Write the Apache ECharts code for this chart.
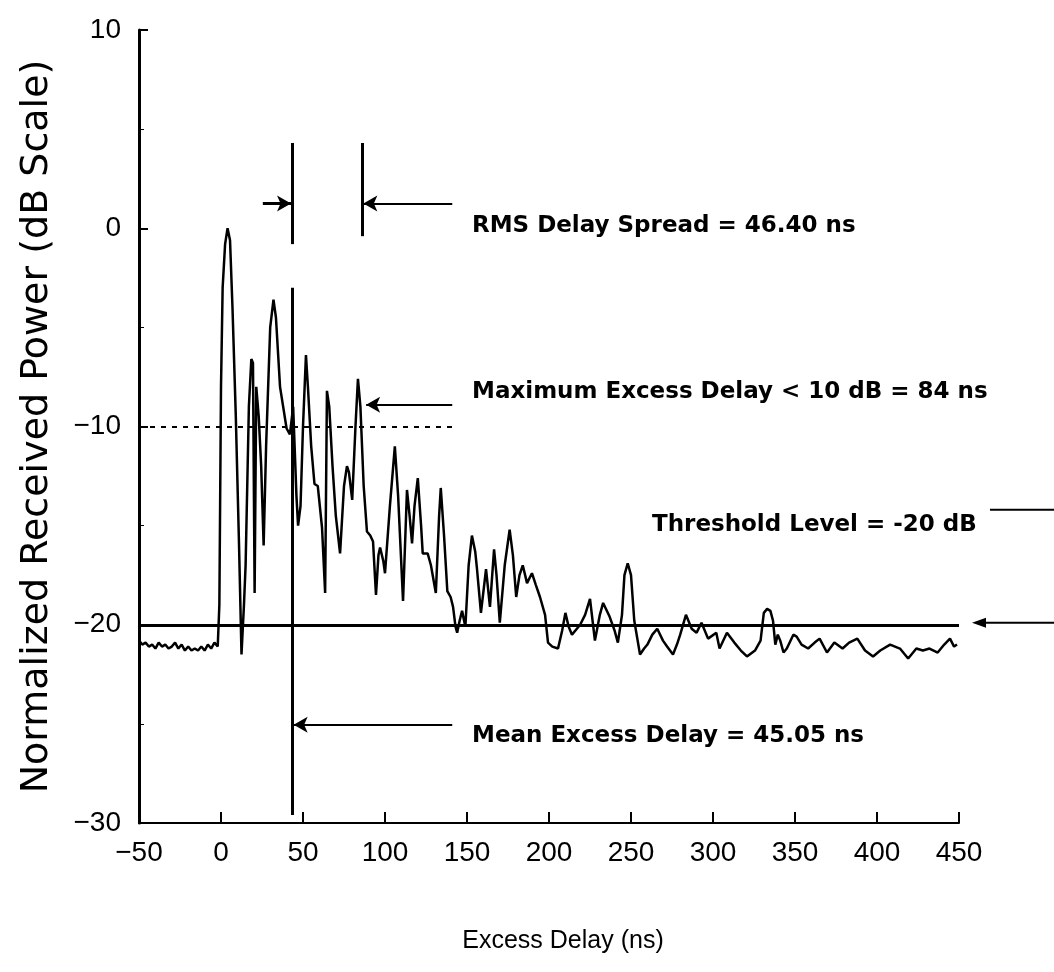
<!DOCTYPE html>
<html>
<head>
<meta charset="utf-8">
<title>Power delay profile</title>
<script src="https://cdn.jsdelivr.net/npm/echarts@6/dist/echarts.min.js"></script>
<style>
  html, body { margin: 0; padding: 0; background: #fff; }
  #main { width: 1054px; height: 972px; }
</style>
</head>
<body>
<div id="main"></div>
<script>
// excess delay (ns) and normalized received power (dB)
var delayNs = [
  -50, -48, -46, -44, -42, -40, -38, -36, -34, -32, -30, -28, -26, -24, -22, -20,
  -18, -16, -14, -12, -10, -8, -6, -4, -2, -1, 0, 1, 2.5, 4, 5.5, 7, 9, 11, 12.5,
  14, 15, 17, 18.5, 19.5, 20.5, 21.5, 23, 24.5, 26, 27.5, 30, 32, 33.5, 36, 40, 42,
  44, 46, 47, 48.5, 50, 51.8, 53, 55, 57, 59, 61.6, 63.5, 64.6, 66, 68, 70, 72.6,
  75, 76.8, 78, 80, 82, 83.5, 85, 87, 89, 91, 92.7, 94.5, 96, 97, 99, 100, 103,
  106, 108, 111, 113.4, 115, 116.5, 118, 120, 122, 123, 126, 128, 131, 133, 134,
  136, 138, 140, 141.5, 143, 144, 145.5, 147, 149, 151, 153, 155, 156, 158.5,
  161.6, 164, 166.5, 168, 170, 173, 176, 178, 180, 182, 184, 186.6, 189.6, 192,
  194.5, 197.6, 199.4, 202, 205.5, 208, 210, 212, 214, 217, 219, 222, 225, 228,
  231, 233, 237, 240, 242, 244.5, 246, 248, 250, 252, 255.5, 258, 260, 263, 266,
  269.5, 272, 275.6, 278, 280, 283.5, 287, 290, 293, 297, 302, 304, 308.5, 313,
  317, 320.7, 325.6, 329, 331, 333, 335, 336.6, 338, 339.5, 341, 343, 345, 349,
  351, 354, 358, 362, 365, 369.5, 374, 379, 383, 388, 392.7, 397.6, 402, 408,
  414, 419, 424, 428, 432, 437, 441, 444.5, 447, 448.8
];
var powerDb = [
  -20.8, -21.0, -20.9, -21.1, -21.0, -21.2, -20.9, -21.1, -21.0, -21.2, -21.1, -20.9, -21.2, -21.0, -21.3, -21.1,
  -21.3, -21.2, -21.3, -21.1, -21.3, -21.0, -21.2, -20.9, -21.1, -19, -8, -3, -0.8, 0, -0.6, -4, -9.4, -16, -21.5,
  -19, -17, -9, -6.6, -6.8, -18.4, -8, -9.5, -12, -16, -11, -5, -3.6, -4.5, -8, -10.1, -10.4,
  -9, -13.5, -15, -14, -10, -6.4, -8, -11, -12.9, -13, -15.1, -18.4, -8.2, -9, -12, -14.5, -16.4,
  -13, -12, -12.3, -13.7, -10, -7.6, -9, -13, -15.3, -15.5, -15.8, -18.5, -16.5, -16.1, -16.8, -17.4, -14,
  -11, -13.5, -18.8, -13.2, -14.5, -15.9, -14, -12.6, -15, -16.4, -16.4, -17, -18.4, -14.5, -13.1,
  -15.5, -18.3, -18.6, -19.1, -20.1, -20.4, -19.8, -19.3, -20.1, -17, -15.5, -16.3, -17.1, -19.4,
  -17.2, -19.1, -16.2, -17.5, -19.9, -17, -15.2, -16.5, -18.6, -17.5, -17, -17.9, -17.4, -18,
  -18.6, -19.5, -20.9, -21.1, -21.2, -20.3, -19.4, -20.1, -20.5, -20.2, -20.0, -19.5, -18.7, -20.8,
  -19.5, -18.9, -19.6, -20.3, -20.9, -19.5, -17.5, -16.9, -17.5, -19.8, -21.5, -21.2, -21.0, -20.5, -20.2,
  -20.8, -21.1, -21.5, -21.0, -20.5, -19.5, -20.2, -20.4, -19.9, -20.7, -20.4, -21.2, -20.4, -20.9,
  -21.3, -21.6, -21.3, -20.8, -19.4, -19.2, -19.3, -19.8, -21.0, -20.5, -20.8, -21.4, -21.2, -20.5,
  -20.6, -21.0, -21.2, -20.9, -20.7, -21.4, -20.9, -21.2, -20.9, -20.7, -21.3, -21.6, -21.3, -21.0,
  -21.2, -21.7, -21.2, -21.3, -21.2, -21.4, -21.0, -20.7, -21.1, -21.0
];
var xTicks = [-50, 0, 50, 100, 150, 200, 250, 300, 350, 400, 450];
var yTicks = [-30, -20, -10, 0, 10];

// markers drawn on the plot (ns / dB)
var threshold = -20;
var tenDbLevel = -10;
var meanLineX = 43.5;
var rmsLinesX = [43.5, 86];

var chartDom = document.getElementById('main');
var myChart = echarts.init(chartDom);

var profile = delayNs.map(function (d, i) { return [d, powerDb[i]]; });

var black = '#000';
var labelFont = '"Liberation Sans", Arial, sans-serif';
var boldFont = '"DejaVu Sans", sans-serif';

function seg(a, b, style, arrow) {
  return [
    { coord: a, symbol: 'none', lineStyle: style },
    { coord: b, symbol: arrow ? 'arrow' : 'none', symbolSize: [12, 14] }
  ];
}

var thin = { color: black, width: 2, type: 'solid' };
var thick = { color: black, width: 3, type: 'solid' };

const option = {
  animation: false,
  backgroundColor: '#fff',
  grid: { left: 139, right: 95, top: 30, bottom: 149 },
  xAxis: {
    type: 'value',
    min: xTicks[0],
    max: xTicks[xTicks.length - 1],
    interval: 50,
    name: 'Excess Delay (ns)',
    nameLocation: 'middle',
    nameGap: 106,
    nameTextStyle: { fontFamily: labelFont, fontSize: 25, color: black, padding: [0, 0, 0, 28] },
    axisLine: { onZero: false, lineStyle: { color: black, width: 2 } },
    axisTick: { inside: true, length: 11, lineStyle: { color: black, width: 2 } },
    axisLabel: {
      fontFamily: labelFont, fontSize: 28, color: black, margin: 16,
      formatter: function (v) { return v < 0 ? '\u2212' + Math.abs(v) : String(v); }
    },
    splitLine: { show: false }
  },
  yAxis: {
    type: 'value',
    min: yTicks[0],
    max: yTicks[yTicks.length - 1],
    interval: 10,
    name: 'Normalized Received Power (dB Scale)',
    nameLocation: 'middle',
    nameGap: 83,
    nameTextStyle: { fontFamily: '"DejaVu Sans", sans-serif', fontSize: 38, color: black },
    axisLine: { onZero: false, lineStyle: { color: black, width: 3 } },
    axisTick: { inside: true, length: 9, lineStyle: { color: black, width: 2 } },
    minorTick: { show: true, splitNumber: 2, length: 5, lineStyle: { color: black, width: 1 } },
    axisLabel: {
      fontFamily: labelFont, fontSize: 28, color: black, margin: 18,
      formatter: function (v) { return v < 0 ? '\u2212' + Math.abs(v) : String(v); }
    },
    splitLine: { show: false }
  },
  series: [
    {
      type: 'line',
      data: profile,
      showSymbol: false,
      smooth: false,
      lineStyle: { color: black, width: 2.5 },
      z: 3,
      markLine: {
        silent: true,
        animation: false,
        label: { show: false },
        data: [
          // -10 dB dotted level
          seg([xTicks[0], tenDbLevel], [141, tenDbLevel], { color: black, width: 2, type: [5, 6] }),
          // threshold level
          seg([xTicks[0], threshold], [xTicks[xTicks.length - 1], threshold], thick),
          // mean excess delay vertical line
          seg([meanLineX, -3], [meanLineX, -29.6], thick),
          // RMS delay spread verticals
          seg([rmsLinesX[0], 4.3], [rmsLinesX[0], -0.8], thick),
          seg([rmsLinesX[1], 4.3], [rmsLinesX[1], -0.4], thick),
          // arrows
          seg([25.5, 1.25], [rmsLinesX[0] - 0.8, 1.25], thick, true),
          seg([141, 1.25], [rmsLinesX[1] + 0.8, 1.25], thin, true),
          seg([141, -8.9], [88.5, -8.9], thin, true),
          seg([141, -25.05], [meanLineX + 0.8, -25.05], thin, true)
        ]
      }
    }
  ],
  graphic: [
    { id: 'rmsText', type: 'text', left: 472, top: 215, style: { text: 'RMS Delay Spread = 46.40 ns', font: 'bold 23px ' + boldFont, fill: black } },
    { id: 'maxText', type: 'text', left: 472, top: 381, style: { text: 'Maximum Excess Delay < 10 dB = 84 ns', font: 'bold 23px ' + boldFont, fill: black } },
    { id: 'thrText', type: 'text', left: 652, top: 514, style: { text: 'Threshold Level = -20 dB', font: 'bold 23px ' + boldFont, fill: black } },
    { id: 'meanText', type: 'text', left: 472, top: 725, style: { text: 'Mean Excess Delay = 45.05 ns', font: 'bold 23px ' + boldFont, fill: black } }
  ]
};

myChart.setOption(option);

// the threshold pointer sits outside the plot area, so it is added as graphics
var thrY = myChart.convertToPixel({ gridIndex: 0 }, [0, threshold + 0.1])[1];
var noteY = myChart.convertToPixel({ gridIndex: 0 }, [0, -14.2])[1];
myChart.setOption({
  graphic: [
    { id: 'thrArrowLine', type: 'line', shape: { x1: 982, y1: thrY, x2: 1054, y2: thrY }, style: { stroke: black, lineWidth: 2 } },
    { id: 'thrArrowHead', type: 'polygon', shape: { points: [[972, thrY], [986, thrY - 5], [986, thrY + 5]] }, style: { fill: black } },
    { id: 'thrNoteLine', type: 'line', shape: { x1: 990, y1: noteY, x2: 1054, y2: noteY }, style: { stroke: black, lineWidth: 2 } }
  ]
});
</script>
</body>
</html>
